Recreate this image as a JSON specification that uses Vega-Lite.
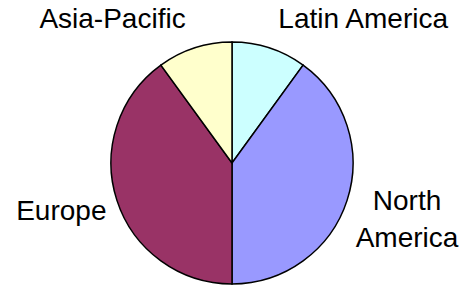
{
  "$schema": "https://vega.github.io/schema/vega-lite/v6.json",
  "autosize": "none",
  "padding": 0,
  "width": 464,
  "height": 326,
  "background": "white",
  "view": {"stroke": null},
  "data": {
    "values": [
      {"region": "Latin America", "share": 10},
      {"region": "North America", "share": 40},
      {"region": "Europe", "share": 40},
      {"region": "Asia-Pacific", "share": 10}
    ]
  },
  "transform": [{"window": [{"op": "row_number", "as": "idx"}]}],
  "encoding": {
    "theta": {"field": "share", "type": "quantitative", "stack": true},
    "order": {"field": "idx", "type": "quantitative"},
    "color": {
      "field": "region",
      "type": "nominal",
      "scale": {
        "domain": ["Latin America", "North America", "Europe", "Asia-Pacific"],
        "range": ["#CCFFFF", "#9999FF", "#993366", "#FFFFCC"]
      },
      "legend": null
    }
  },
  "layer": [
    {
      "mark": {"type": "arc", "radius": 121, "stroke": "black", "strokeWidth": 1.5}
    },
    {
      "mark": {
        "type": "text",
        "font": "Liberation Sans",
        "fontSize": 28,
        "fill": "black",
        "baseline": "middle",
        "lineHeight": 37,
        "radius": {"expr": "datum.region === 'Europe' ? 132 : datum.region === 'North America' ? 184 : 150"},
        "dy": {"expr": "datum.region === 'North America' ? -18 : datum.region === 'Europe' ? 8 : 0"},
        "align": {"expr": "datum.region === 'Europe' || datum.region === 'Asia-Pacific' ? 'right' : datum.region === 'North America' ? 'center' : 'left'"},
        "lineBreak": {"expr": "datum.region === 'North America' ? ' ' : '\\n'"}
      },
      "encoding": {
        "text": {"field": "region", "type": "nominal"},
        "color": {"value": "black"}
      }
    }
  ]
}
